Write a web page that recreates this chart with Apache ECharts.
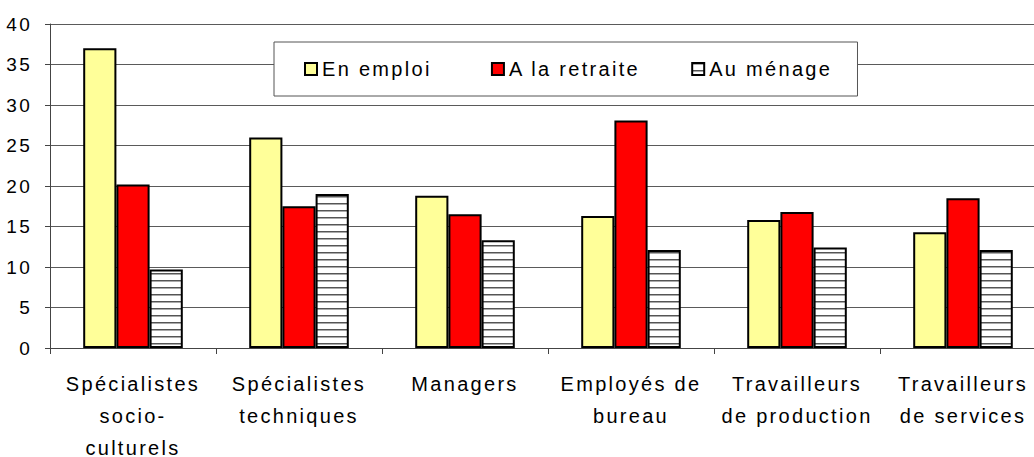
<!DOCTYPE html>
<html>
<head>
<meta charset="utf-8">
<script src="https://cdn.jsdelivr.net/npm/echarts@6/dist/echarts.min.js"></script>
<style>
    html, body { margin: 0; padding: 0; background: #fff; }
    #main { width: 1034px; height: 457px; }
    /* le texte d'origine est un peu espacé */
    #main text { letter-spacing: 2.3px; }
</style>
</head>
<body>
<div id="main"></div>
<script>
var categories = ['Spécialistes\nsocio-\nculturels', 'Spécialistes\ntechniques', 'Managers',
    'Employés de\nbureau', 'Travailleurs\nde production', 'Travailleurs\nde services'];
var enEmploi = [37.0, 26.0, 18.8, 16.3, 15.8, 14.3];
var aLaRetraite = [20.2, 17.5, 16.5, 28.1, 16.8, 18.5];
var auMenage = [9.7, 19.0, 13.3, 12.1, 12.4, 12.1];
var seriesNames = ['En emploi', 'A la retraite', 'Au ménage'];

// motif hachuré horizontal
var hatch = document.createElement('canvas');
hatch.width = 8;
hatch.height = 7;
var ctx = hatch.getContext('2d');
ctx.fillStyle = '#fff';
ctx.fillRect(0, 0, 8, 7);
ctx.fillStyle = '#555';
ctx.fillRect(0, 0, 8, 1);
ctx.fillStyle = '#aaa';
ctx.fillRect(0, 1, 8, 1);

var font = 'Liberation Sans, Arial, sans-serif';
var myChart = echarts.init(document.getElementById('main'), null, {renderer: 'svg'});
var border = {borderColor: '#000', borderWidth: 2};

option = {
    animation: false,
    backgroundColor: '#fff',
    textStyle: {fontFamily: font},
    grid: {left: 50, top: 24, width: 996, height: 324, outerBoundsMode: 'none', containLabel: false},
    legend: {
        left: 274,
        top: 42,
        padding: [17, 46, 17, 30],
        itemGap: 80,
        itemWidth: 12,
        itemHeight: 12,
        icon: 'rect',
        backgroundColor: '#fff',
        borderColor: '#555',
        borderWidth: 1,
        textStyle: {fontSize: 20, color: '#000', fontFamily: font},
        data: seriesNames
    },
    xAxis: {
        type: 'category',
        data: categories,
        axisLine: {lineStyle: {color: '#444', width: 1}},
        axisTick: {show: true, length: 6, lineStyle: {color: '#444'}},
        axisLabel: {fontSize: 20, lineHeight: 32, color: '#000', margin: 20, interval: 0, fontFamily: font}
    },
    yAxis: {
        type: 'value',
        min: 0,
        max: 40,
        interval: 5,
        axisLine: {show: true, lineStyle: {color: '#444', width: 1}},
        axisTick: {show: true, length: 5, lineStyle: {color: '#444'}},
        axisLabel: {fontSize: 19, color: '#000', margin: 18, fontFamily: font},
        splitLine: {lineStyle: {color: '#5a5a5a', width: 1}}
    },
    series: [
        {
            name: seriesNames[0],
            type: 'bar',
            data: enEmploi,
            barGap: '0%',
            barCategoryGap: '40%',
            itemStyle: Object.assign({color: '#ffff99'}, border)
        },
        {
            name: seriesNames[1],
            type: 'bar',
            data: aLaRetraite,
            barGap: '0%',
            barCategoryGap: '40%',
            itemStyle: Object.assign({color: '#ff0000'}, border)
        },
        {
            name: seriesNames[2],
            type: 'bar',
            data: auMenage,
            barGap: '0%',
            barCategoryGap: '40%',
            itemStyle: Object.assign({color: {image: hatch, repeat: 'repeat'}}, border)
        }
    ]
};
myChart.setOption(option);
</script>
</body>
</html>
